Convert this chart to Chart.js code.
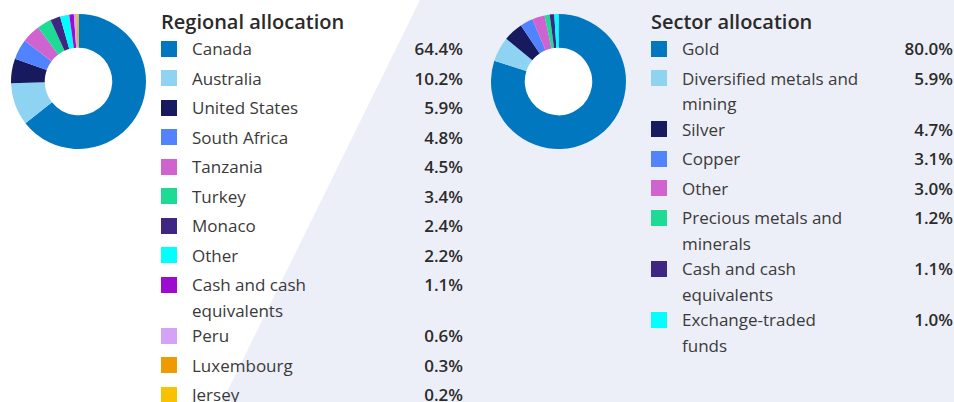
<!DOCTYPE html>
<html>
<head>
<meta charset="utf-8">
<script src="https://cdn.jsdelivr.net/npm/chart.js@4.4.0/dist/chart.umd.min.js"></script>
<style>
  html, body { margin: 0; padding: 0; }
  body { width: 954px; height: 402px; overflow: hidden; position: relative; background: #fff; font-family: "Open Sans", "Noto Sans", sans-serif; color: #3a3a3a; }
  #bg { position: absolute; left: 0; top: 0; width: 954px; height: 402px; background: #edeff8;
        clip-path: polygon(420px 0, 954px 0, 954px 402px, 222px 402px); }
  .donut { position: absolute; top: 14px; width: 135px; height: 135px; }
  .panel { position: absolute; top: 9px; }
  .title { font-size: 20px; font-weight: 600; color: #2a2a2a; line-height: 26px; height: 27px; }
  .row { display: flex; min-height: 29.5px; line-height: 25.5px; font-size: 17px; }
  .sw { width: 16px; height: 16px; margin-top: 4.75px; flex: none; }
  .lab { margin-left: 15px; width: 180px; flex: none; }
  .val { flex: 1; text-align: right; font-weight: 600; color: #2b2b2b; }
</style>
</head>
<body>
<div id="bg"></div>
<div class="donut" style="left:11px"><canvas id="regionChart"></canvas></div>
<div class="donut" style="left:491px"><canvas id="sectorChart"></canvas></div>
<div class="panel" id="regionLegend" style="left:161px;width:302px"><div class="title">Regional allocation</div></div>
<div class="panel" id="sectorLegend" style="left:651px;width:302px"><div class="title">Sector allocation</div></div>
<script>
var regionLabels = ['Canada', 'Australia', 'United States', 'South Africa', 'Tanzania', 'Turkey', 'Monaco', 'Other', 'Cash and cash equivalents', 'Peru', 'Luxembourg', 'Jersey'];
var regionValues = [64.4, 10.2, 5.9, 4.8, 4.5, 3.4, 2.4, 2.2, 1.1, 0.6, 0.3, 0.2];
var regionColors = ['#0077be', '#8fd3f3', '#171a5e', '#5283ff', '#cf63d0', '#1ddb95', '#3f2683', '#00ffff', '#9b0bd0', '#d4a3f8', '#ee9a00', '#f8c200'];

var sectorLabels = ['Gold', 'Diversified metals and mining', 'Silver', 'Copper', 'Other', 'Precious metals and minerals', 'Cash and cash equivalents', 'Exchange-traded funds'];
var sectorValues = [80.0, 5.9, 4.7, 3.1, 3.0, 1.2, 1.1, 1.0];
var sectorColors = ['#0077be', '#8fd3f3', '#171a5e', '#5283ff', '#cf63d0', '#1ddb95', '#3f2683', '#00ffff'];

// white hole in the middle (the right one sits on the lavender bg)
var holePlugin = {
  id: 'hole',
  beforeDatasetsDraw: function (chart) {
    var arc = chart.getDatasetMeta(0).data[0];
    if (!arc) return;
    var ctx = chart.ctx;
    ctx.save();
    ctx.fillStyle = '#fff';
    ctx.beginPath();
    ctx.arc(arc.x, arc.y, arc.innerRadius + 1, 0, Math.PI * 2);
    ctx.fill();
    ctx.restore();
  }
};

function makeDonut(id, labels, values, colors) {
  new Chart(document.getElementById(id), {
    type: 'doughnut',
    data: {
      labels: labels,
      datasets: [{ data: values, backgroundColor: colors, borderWidth: 0 }]
    },
    options: {
      responsive: true,
      maintainAspectRatio: false,
      animation: false,
      cutout: '50%',
      layout: { padding: 0 },
      plugins: { legend: { display: false }, tooltip: { enabled: false } }
    },
    plugins: [holePlugin]
  });
}

function makeLegend(id, labels, values, colors) {
  var box = document.getElementById(id);
  for (var i = 0; i < labels.length; i++) {
    var row = document.createElement('div');
    row.className = 'row';
    row.innerHTML = '<div class="sw" style="background:' + colors[i] + '"></div>' +
      '<div class="lab">' + labels[i] + '</div>' +
      '<div class="val">' + values[i].toFixed(1) + '%</div>';
    box.appendChild(row);
  }
}

makeDonut('regionChart', regionLabels, regionValues, regionColors);
makeDonut('sectorChart', sectorLabels, sectorValues, sectorColors);
makeLegend('regionLegend', regionLabels, regionValues, regionColors);
makeLegend('sectorLegend', sectorLabels, sectorValues, sectorColors);
</script>
</body>
</html>
